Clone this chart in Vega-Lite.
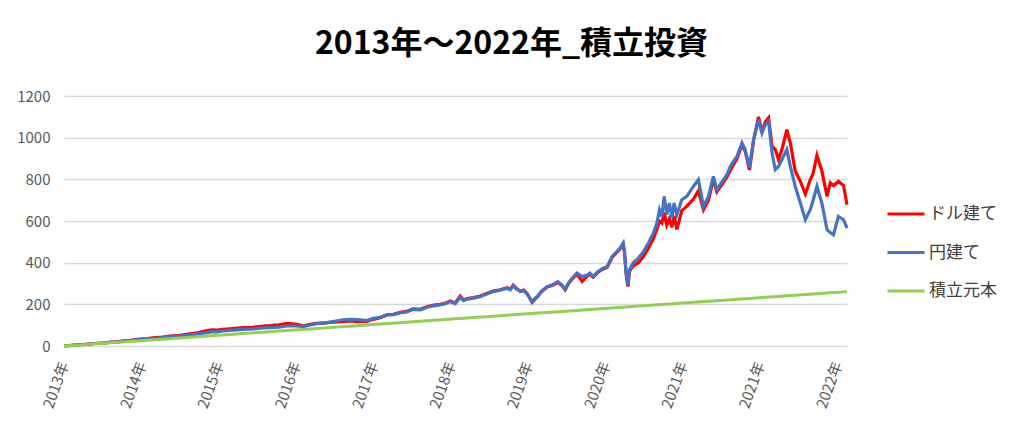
{
  "$schema": "https://vega.github.io/schema/vega-lite/v6.json",
  "autosize": {"type": "none"},
  "padding": {"left": 64, "top": 96, "right": 177, "bottom": 84},
  "width": 783,
  "height": 250,
  "background": "#ffffff",
  "title": {
    "text": "2013年～2022年_積立投資",
    "font": "Noto Sans CJK JP",
    "fontSize": 32,
    "fontWeight": "bold",
    "color": "#000000",
    "anchor": "middle",
    "dx": 56,
    "offset": 28
  },
  "data": {
    "values": [
      {"date": "2013-02-13", "usd": 0, "jpy": 0, "principal": 0},
      {"date": "2013-03-22", "usd": 3, "jpy": 3, "principal": 2.7},
      {"date": "2013-04-29", "usd": 6, "jpy": 6, "principal": 5.3},
      {"date": "2013-06-02", "usd": 9, "jpy": 8, "principal": 7.8},
      {"date": "2013-07-07", "usd": 12, "jpy": 12, "principal": 10.3},
      {"date": "2013-08-11", "usd": 14, "jpy": 14, "principal": 12.8},
      {"date": "2013-09-15", "usd": 18, "jpy": 17, "principal": 15.3},
      {"date": "2013-10-20", "usd": 21, "jpy": 20, "principal": 17.8},
      {"date": "2013-11-24", "usd": 25, "jpy": 24, "principal": 20.3},
      {"date": "2013-12-29", "usd": 28, "jpy": 27, "principal": 22.8},
      {"date": "2014-02-02", "usd": 33, "jpy": 31, "principal": 25.3},
      {"date": "2014-03-09", "usd": 35, "jpy": 33, "principal": 27.8},
      {"date": "2014-04-13", "usd": 40, "jpy": 37, "principal": 30.3},
      {"date": "2014-05-18", "usd": 43, "jpy": 40, "principal": 32.8},
      {"date": "2014-06-22", "usd": 47, "jpy": 45, "principal": 35.3},
      {"date": "2014-08-08", "usd": 51, "jpy": 48, "principal": 38.7},
      {"date": "2014-09-23", "usd": 58, "jpy": 53, "principal": 42},
      {"date": "2014-11-01", "usd": 64, "jpy": 58, "principal": 44.8},
      {"date": "2014-12-11", "usd": 74, "jpy": 64, "principal": 47.7},
      {"date": "2015-01-03", "usd": 77, "jpy": 69, "principal": 49.3},
      {"date": "2015-01-28", "usd": 76, "jpy": 68, "principal": 51.2},
      {"date": "2015-02-23", "usd": 80, "jpy": 72, "principal": 53},
      {"date": "2015-04-11", "usd": 84, "jpy": 76, "principal": 56.3},
      {"date": "2015-05-28", "usd": 88, "jpy": 80, "principal": 59.7},
      {"date": "2015-07-13", "usd": 90, "jpy": 82, "principal": 63},
      {"date": "2015-08-29", "usd": 96, "jpy": 87, "principal": 66.3},
      {"date": "2015-09-30", "usd": 98, "jpy": 88, "principal": 68.7},
      {"date": "2015-11-09", "usd": 102, "jpy": 91, "principal": 71.5},
      {"date": "2015-12-18", "usd": 109, "jpy": 96, "principal": 74.3},
      {"date": "2016-02-03", "usd": 104, "jpy": 96, "principal": 77.7},
      {"date": "2016-03-02", "usd": 96, "jpy": 93, "principal": 79.7},
      {"date": "2016-04-03", "usd": 104, "jpy": 101, "principal": 82},
      {"date": "2016-05-06", "usd": 109, "jpy": 108, "principal": 84.3},
      {"date": "2016-06-13", "usd": 111, "jpy": 111, "principal": 87},
      {"date": "2016-07-20", "usd": 115, "jpy": 117, "principal": 89.7},
      {"date": "2016-09-04", "usd": 117, "jpy": 126, "principal": 93},
      {"date": "2016-10-07", "usd": 120, "jpy": 128, "principal": 95.3},
      {"date": "2016-11-08", "usd": 117, "jpy": 127, "principal": 97.7},
      {"date": "2016-12-25", "usd": 118, "jpy": 122, "principal": 101},
      {"date": "2017-01-22", "usd": 128, "jpy": 133, "principal": 103},
      {"date": "2017-02-24", "usd": 136, "jpy": 138, "principal": 105.3},
      {"date": "2017-03-28", "usd": 150, "jpy": 149, "principal": 107.7},
      {"date": "2017-04-27", "usd": 152, "jpy": 150, "principal": 109.8},
      {"date": "2017-05-28", "usd": 162, "jpy": 160, "principal": 112},
      {"date": "2017-06-27", "usd": 166, "jpy": 163, "principal": 114.2},
      {"date": "2017-07-27", "usd": 178, "jpy": 176, "principal": 116.3},
      {"date": "2017-08-29", "usd": 176, "jpy": 173, "principal": 118.7},
      {"date": "2017-09-30", "usd": 188, "jpy": 186, "principal": 121},
      {"date": "2017-10-31", "usd": 197, "jpy": 193, "principal": 123.2},
      {"date": "2017-11-30", "usd": 200, "jpy": 197, "principal": 125.3},
      {"date": "2017-12-23", "usd": 205, "jpy": 203, "principal": 127},
      {"date": "2018-01-16", "usd": 216, "jpy": 213, "principal": 128.7},
      {"date": "2018-02-08", "usd": 206, "jpy": 203, "principal": 130.3},
      {"date": "2018-03-03", "usd": 240, "jpy": 234, "principal": 132},
      {"date": "2018-03-19", "usd": 222, "jpy": 218, "principal": 133.2},
      {"date": "2018-04-05", "usd": 228, "jpy": 225, "principal": 134.3},
      {"date": "2018-05-05", "usd": 233, "jpy": 230, "principal": 136.5},
      {"date": "2018-06-04", "usd": 240, "jpy": 237, "principal": 138.7},
      {"date": "2018-07-05", "usd": 252, "jpy": 249, "principal": 140.8},
      {"date": "2018-08-04", "usd": 264, "jpy": 261, "principal": 143},
      {"date": "2018-09-06", "usd": 270, "jpy": 268, "principal": 145.3},
      {"date": "2018-10-08", "usd": 280, "jpy": 277, "principal": 147.7},
      {"date": "2018-10-22", "usd": 272, "jpy": 270, "principal": 148.7},
      {"date": "2018-11-05", "usd": 292, "jpy": 289, "principal": 149.7},
      {"date": "2018-11-21", "usd": 276, "jpy": 274, "principal": 150.8},
      {"date": "2018-12-08", "usd": 263, "jpy": 261, "principal": 152},
      {"date": "2018-12-24", "usd": 268, "jpy": 265, "principal": 153.2},
      {"date": "2019-01-09", "usd": 252, "jpy": 250, "principal": 154.3},
      {"date": "2019-02-01", "usd": 210, "jpy": 213, "principal": 156},
      {"date": "2019-02-15", "usd": 225, "jpy": 228, "principal": 157},
      {"date": "2019-03-01", "usd": 240, "jpy": 242, "principal": 158},
      {"date": "2019-03-18", "usd": 262, "jpy": 265, "principal": 159.2},
      {"date": "2019-04-12", "usd": 283, "jpy": 285, "principal": 161},
      {"date": "2019-05-09", "usd": 292, "jpy": 295, "principal": 162.9},
      {"date": "2019-06-01", "usd": 306, "jpy": 309, "principal": 164.6},
      {"date": "2019-06-20", "usd": 290, "jpy": 292, "principal": 165.9},
      {"date": "2019-07-05", "usd": 270, "jpy": 272, "principal": 167},
      {"date": "2019-07-21", "usd": 300, "jpy": 303, "principal": 168.2},
      {"date": "2019-08-07", "usd": 322, "jpy": 326, "principal": 169.4},
      {"date": "2019-08-29", "usd": 345, "jpy": 350, "principal": 170.9},
      {"date": "2019-09-22", "usd": 310, "jpy": 333, "principal": 172.7},
      {"date": "2019-10-15", "usd": 335, "jpy": 341, "principal": 174.3},
      {"date": "2019-10-28", "usd": 345, "jpy": 350, "principal": 175.2},
      {"date": "2019-11-12", "usd": 330, "jpy": 333, "principal": 176.3},
      {"date": "2019-12-05", "usd": 355, "jpy": 358, "principal": 178},
      {"date": "2019-12-29", "usd": 370, "jpy": 374, "principal": 179.7},
      {"date": "2020-01-17", "usd": 378, "jpy": 381, "principal": 181},
      {"date": "2020-02-09", "usd": 427, "jpy": 430, "principal": 182.7},
      {"date": "2020-03-03", "usd": 450, "jpy": 454, "principal": 184.3},
      {"date": "2020-03-17", "usd": 466, "jpy": 470, "principal": 185.3},
      {"date": "2020-03-31", "usd": 490, "jpy": 494, "principal": 186.3},
      {"date": "2020-04-06", "usd": 450, "jpy": 454, "principal": 186.8},
      {"date": "2020-04-14", "usd": 345, "jpy": 350, "principal": 187.3},
      {"date": "2020-04-22", "usd": 285, "jpy": 293, "principal": 187.9},
      {"date": "2020-04-30", "usd": 360, "jpy": 366, "principal": 188.5},
      {"date": "2020-05-17", "usd": 385, "jpy": 400, "principal": 189.7},
      {"date": "2020-06-10", "usd": 400, "jpy": 422, "principal": 191.4},
      {"date": "2020-07-04", "usd": 430, "jpy": 454, "principal": 193.1},
      {"date": "2020-07-27", "usd": 470, "jpy": 494, "principal": 194.8},
      {"date": "2020-08-19", "usd": 515, "jpy": 542, "principal": 196.4},
      {"date": "2020-09-04", "usd": 560, "jpy": 590, "principal": 197.6},
      {"date": "2020-09-16", "usd": 600, "jpy": 654, "principal": 198.4},
      {"date": "2020-09-27", "usd": 590, "jpy": 622, "principal": 199.2},
      {"date": "2020-10-08", "usd": 640, "jpy": 718, "principal": 200},
      {"date": "2020-10-20", "usd": 580, "jpy": 630, "principal": 200.9},
      {"date": "2020-11-01", "usd": 610, "jpy": 686, "principal": 201.7},
      {"date": "2020-11-13", "usd": 570, "jpy": 614, "principal": 202.6},
      {"date": "2020-11-23", "usd": 625, "jpy": 686, "principal": 203.3},
      {"date": "2020-12-06", "usd": 560, "jpy": 630, "principal": 204.2},
      {"date": "2020-12-29", "usd": 650, "jpy": 702, "principal": 205.9},
      {"date": "2021-01-21", "usd": 670, "jpy": 718, "principal": 207.5},
      {"date": "2021-02-21", "usd": 705, "jpy": 766, "principal": 209.8},
      {"date": "2021-03-16", "usd": 745, "jpy": 798, "principal": 211.4},
      {"date": "2021-04-09", "usd": 654, "jpy": 670, "principal": 213.1},
      {"date": "2021-05-02", "usd": 700, "jpy": 718, "principal": 214.8},
      {"date": "2021-05-25", "usd": 800, "jpy": 814, "principal": 216.4},
      {"date": "2021-06-10", "usd": 740, "jpy": 750, "principal": 217.5},
      {"date": "2021-07-11", "usd": 785, "jpy": 798, "principal": 219.8},
      {"date": "2021-07-27", "usd": 810, "jpy": 822, "principal": 220.9},
      {"date": "2021-08-12", "usd": 845, "jpy": 862, "principal": 222.1},
      {"date": "2021-08-27", "usd": 870, "jpy": 887, "principal": 223.1},
      {"date": "2021-09-12", "usd": 900, "jpy": 910, "principal": 224.3},
      {"date": "2021-10-05", "usd": 965, "jpy": 975, "principal": 225.9},
      {"date": "2021-10-20", "usd": 935, "jpy": 943, "principal": 227},
      {"date": "2021-11-09", "usd": 845, "jpy": 855, "principal": 228.4},
      {"date": "2021-11-28", "usd": 985, "jpy": 991, "principal": 229.8},
      {"date": "2021-12-21", "usd": 1100, "jpy": 1087, "principal": 231.4},
      {"date": "2022-01-06", "usd": 1030, "jpy": 1023, "principal": 232.6},
      {"date": "2022-01-22", "usd": 1075, "jpy": 1063, "principal": 233.7},
      {"date": "2022-02-06", "usd": 1095, "jpy": 1079, "principal": 234.8},
      {"date": "2022-02-22", "usd": 959, "jpy": 927, "principal": 235.9},
      {"date": "2022-03-09", "usd": 943, "jpy": 847, "principal": 237},
      {"date": "2022-03-24", "usd": 895, "jpy": 862, "principal": 238.1},
      {"date": "2022-04-09", "usd": 943, "jpy": 895, "principal": 239.2},
      {"date": "2022-05-02", "usd": 1039, "jpy": 943, "principal": 240.9},
      {"date": "2022-05-18", "usd": 975, "jpy": 862, "principal": 242},
      {"date": "2022-06-10", "usd": 840, "jpy": 766, "principal": 243.7},
      {"date": "2022-07-04", "usd": 790, "jpy": 686, "principal": 245.4},
      {"date": "2022-07-27", "usd": 730, "jpy": 606, "principal": 247},
      {"date": "2022-08-19", "usd": 798, "jpy": 654, "principal": 248.7},
      {"date": "2022-09-02", "usd": 831, "jpy": 702, "principal": 249.7},
      {"date": "2022-09-19", "usd": 915, "jpy": 766, "principal": 250.9},
      {"date": "2022-10-12", "usd": 840, "jpy": 686, "principal": 252.6},
      {"date": "2022-11-05", "usd": 718, "jpy": 558, "principal": 254.3},
      {"date": "2022-11-20", "usd": 783, "jpy": 545, "principal": 255.3},
      {"date": "2022-12-05", "usd": 770, "jpy": 534, "principal": 256.4},
      {"date": "2022-12-28", "usd": 790, "jpy": 622, "principal": 258.1},
      {"date": "2023-01-21", "usd": 770, "jpy": 606, "principal": 259.8},
      {"date": "2023-02-06", "usd": 678, "jpy": 566, "principal": 260.9}
    ]
  },
  "encoding": {
    "x": {
      "field": "date",
      "type": "temporal",
      "title": null,
      "scale": {"nice": false},
      "axis": {
        "values": [
          {"year": 2013, "month": 2, "date": 13},
          {"year": 2014, "month": 2, "date": 8},
          {"year": 2015, "month": 2, "date": 3},
          {"year": 2016, "month": 1, "date": 29},
          {"year": 2017, "month": 1, "date": 23},
          {"year": 2018, "month": 1, "date": 18},
          {"year": 2019, "month": 1, "date": 13},
          {"year": 2020, "month": 1, "date": 8},
          {"year": 2021, "month": 1, "date": 2},
          {"year": 2021, "month": 12, "date": 28},
          {"year": 2022, "month": 12, "date": 23}
        ],
        "format": "%Y年",
        "labelAngle": -70,
        "labelAlign": "right",
        "labelBaseline": "middle",
        "labelPadding": 16,
        "labelFontSize": 15,
        "labelColor": "#595959",
        "labelFont": "Noto Sans CJK JP",
        "ticks": false,
        "domain": false,
        "grid": false,
        "labelOverlap": false,
        "labelFlush": false
      }
    }
  },
  "layer": [
    {
      "mark": {"type": "line", "strokeWidth": 3.2, "interpolate": "linear"},
      "encoding": {
        "y": {"field": "usd", "type": "quantitative"},
        "color": {"datum": "ドル建て"}
      }
    },
    {
      "mark": {"type": "line", "strokeWidth": 3.2, "interpolate": "linear"},
      "encoding": {
        "y": {"field": "jpy", "type": "quantitative"},
        "color": {"datum": "円建て"}
      }
    },
    {
      "mark": {"type": "line", "strokeWidth": 3, "interpolate": "linear"},
      "encoding": {
        "y": {
          "field": "principal",
          "type": "quantitative",
          "title": null,
          "scale": {"domain": [0, 1200], "nice": false},
          "axis": {
            "values": [0, 200, 400, 600, 800, 1000, 1200],
            "format": "d",
            "labelFontSize": 15,
            "labelColor": "#595959",
            "labelFont": "Noto Sans CJK JP",
            "labelPadding": 14,
            "ticks": false,
            "domain": false,
            "gridColor": "#d9d9d9",
            "gridWidth": 1.3
          }
        },
        "color": {
          "datum": "積立元本",
          "type": "nominal",
          "scale": {
            "domain": ["ドル建て", "円建て", "積立元本"],
            "range": ["#ff0000", "#4472c4", "#92d050"]
          },
          "legend": {
            "title": null,
            "orient": "none",
            "legendX": 822,
            "legendY": 98,
            "symbolType": "stroke",
            "symbolSize": 1369,
            "symbolStrokeWidth": 3,
            "labelFontSize": 17,
            "labelFont": "Noto Sans CJK JP",
            "labelColor": "#404040",
            "labelOffset": 3,
            "rowPadding": 10.5
          }
        }
      }
    }
  ],
  "resolve": {"scale": {"y": "shared"}},
  "config": {
    "view": {"stroke": null},
    "font": "Noto Sans CJK JP"
  }
}
